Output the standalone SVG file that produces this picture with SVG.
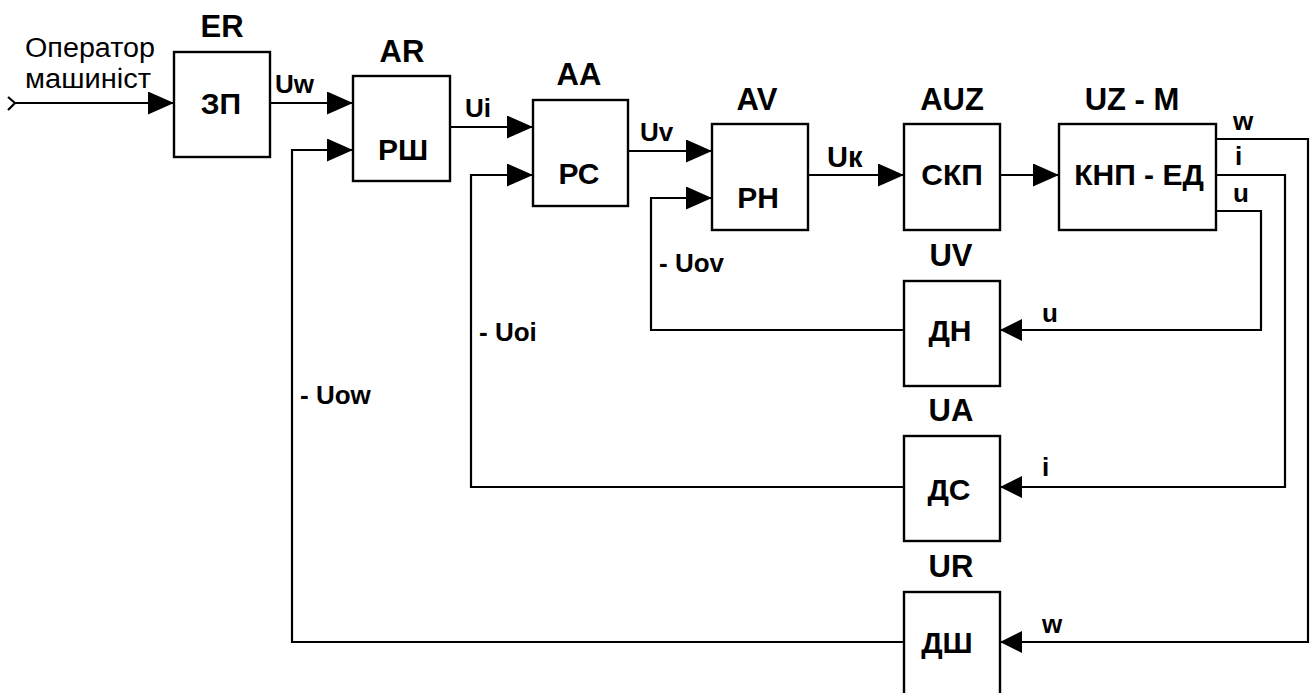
<svg xmlns="http://www.w3.org/2000/svg" width="1312" height="693" viewBox="0 0 1312 693">
<style>
.box{fill:#fff;stroke:#000;stroke-width:2.4}
.ln{fill:none;stroke:#000;stroke-width:2.2}
.lbl{font-family:"Liberation Sans",Arial,sans-serif;font-weight:bold;font-size:31px;fill:#000;text-anchor:middle}
.in{font-family:"Liberation Sans",Arial,sans-serif;font-weight:bold;font-size:30px;fill:#000;text-anchor:middle}
.sig{font-family:"Liberation Sans",Arial,sans-serif;font-weight:bold;font-size:26px;fill:#000}
.reg{font-family:"Liberation Sans",Arial,sans-serif;font-size:27px;fill:#000}
</style>
<defs>
<marker id="arr" viewBox="0 0 26 23" markerWidth="26" markerHeight="23" refX="26" refY="11.5" orient="auto" markerUnits="userSpaceOnUse">
<path d="M0,0 L26,11.5 L0,23 z" fill="#000"/>
</marker>
<marker id="arrs" viewBox="0 0 22 22" markerWidth="22" markerHeight="22" refX="22" refY="11" orient="auto" markerUnits="userSpaceOnUse">
<path d="M0,0 L22,11 L0,22 z" fill="#000"/>
</marker>
</defs>
<rect width="1312" height="693" fill="#fff"/>
<g id="connectors">
<polyline class="ln" points="8,97 15,103 8,110"/>
<path class="ln" d="M15,103 H174" marker-end="url(#arr)"/>
<path class="ln" d="M270,103 H353" marker-end="url(#arr)"/>
<path class="ln" d="M450,127 H533" marker-end="url(#arr)"/>
<path class="ln" d="M628,151 H712" marker-end="url(#arr)"/>
<path class="ln" d="M808,175 H904" marker-end="url(#arr)"/>
<path class="ln" d="M1000,175 H1059" marker-end="url(#arr)"/>
<path class="ln" d="M1216,139 H1308 V642 H1000" marker-end="url(#arrs)"/>
<path class="ln" d="M1216,175 H1285 V487 H1000" marker-end="url(#arrs)"/>
<path class="ln" d="M1216,211 H1261 V330 H1000" marker-end="url(#arrs)"/>
<path class="ln" d="M904,330 H651 V198 H712" marker-end="url(#arr)"/>
<path class="ln" d="M904,487 H471 V175 H533" marker-end="url(#arr)"/>
<path class="ln" d="M904,642 H292 V150 H353" marker-end="url(#arr)"/>
<text class="reg" x="25" y="57" textLength="130" lengthAdjust="spacingAndGlyphs">Оператор</text>
<text class="reg" x="25" y="88" textLength="126" lengthAdjust="spacingAndGlyphs">машиніст</text>
<text class="sig" x="275" y="93">Uw</text>
<text class="sig" x="465" y="117">Ui</text>
<text class="sig" x="640" y="141">Uv</text>
<text class="sig" x="827" y="167" style="font-size:29px">Uк</text>
<text class="sig" x="1233" y="130">w</text>
<text class="sig" x="1235" y="165">i</text>
<text class="sig" x="1233" y="202">u</text>
<text class="sig" x="1042" y="322">u</text>
<text class="sig" x="1042" y="476">i</text>
<text class="sig" x="1042" y="633">w</text>
<text class="sig" x="659" y="272">- Uov</text>
<text class="sig" x="479" y="341">- Uoi</text>
<text class="sig" x="300" y="404">- Uow</text>
</g>
<g id="ER">
<rect class="box" x="174" y="52" width="96" height="105"/>
<text class="lbl" x="222" y="37">ER</text>
<text class="in" x="221" y="114">ЗП</text>
</g>
<g id="AR">
<rect class="box" x="353" y="76" width="97" height="105"/>
<text class="lbl" x="402" y="62">AR</text>
<text class="in" x="403" y="160">РШ</text>
</g>
<g id="AA">
<rect class="box" x="533" y="100" width="95" height="106"/>
<text class="lbl" x="579" y="85">AA</text>
<text class="in" x="579" y="184">РС</text>
</g>
<g id="AV">
<rect class="box" x="712" y="124" width="96" height="106"/>
<text class="lbl" x="757" y="110">AV</text>
<text class="in" x="758" y="208">РН</text>
</g>
<g id="AUZ">
<rect class="box" x="904" y="124" width="96" height="106"/>
<text class="lbl" x="952" y="110">AUZ</text>
<text class="in" x="952" y="185">СКП</text>
</g>
<g id="UZM">
<rect class="box" x="1059" y="124" width="157" height="106"/>
<text class="lbl" x="1132" y="110">UZ - M</text>
<text class="in" x="1139" y="185">КНП - ЕД</text>
</g>
<g id="UV">
<rect class="box" x="904" y="281" width="96" height="105"/>
<text class="lbl" x="951" y="266">UV</text>
<text class="in" x="950" y="341">ДН</text>
</g>
<g id="UA">
<rect class="box" x="904" y="436" width="96" height="105"/>
<text class="lbl" x="951" y="421">UA</text>
<text class="in" x="949" y="500">ДС</text>
</g>
<g id="UR">
<rect class="box" x="904" y="592" width="96" height="110"/>
<text class="lbl" x="951" y="577">UR</text>
<text class="in" x="947" y="653">ДШ</text>
</g>
</svg>
